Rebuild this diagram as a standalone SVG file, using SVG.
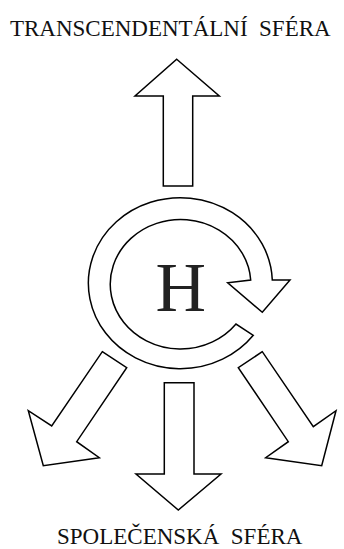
<svg xmlns="http://www.w3.org/2000/svg" width="344" height="549" viewBox="0 0 344 549">
<style>
.shape{fill:#fff;stroke:#000;stroke-width:1.5;stroke-linejoin:miter}
.lbl{font-family:"Liberation Serif","Times New Roman",serif;font-size:23px;fill:#111}
.h{font-family:"Liberation Serif","Times New Roman",serif;font-size:70px;fill:#222}
</style>
<rect width="344" height="549" fill="#fff"/>
<g id="label-top"><text class="lbl" x="170.3" y="36" text-anchor="middle" xml:space="preserve">TRANSCENDENTÁLNÍ  SFÉRA</text></g>
<g id="label-bottom"><text class="lbl" x="179.7" y="544" text-anchor="middle" xml:space="preserve">SPOLEČENSKÁ  SFÉRA</text></g>
<g id="connectors">
<path class="shape" d="M176.7,59.3 L219.3,96 L192.7,96 L192.7,186 L163.3,186 L163.3,96 L135,96 Z"/>
<path class="shape" d="M164.3,382.7 L194,382.7 L194,474 L221,474 L178.3,510 L136,474 L164.3,474 Z"/>
<path class="shape" d="M102.3,351.7 L126.7,367.7 L76.7,441.7 L99.3,457.7 L43.3,465.7 L28.3,410.7 L51.7,426 Z"/>
<path class="shape" d="M262.3,351.7 L238.3,367.7 L288.3,441.7 L265.7,457.7 L321.7,465.7 L336,410.7 L313.3,426.7 Z"/>
</g>
<g id="node-h">
<path class="shape" d="M253.3,335.3 A92,85.5 0 1 1 272.3,280 L290,280 L262.3,312.3 L227.7,282.7 L250.7,280 A70.3,64.7 0 1 0 236,324 Z"/>
<text class="h" x="180.8" y="310.7" text-anchor="middle">H</text>
</g>
</svg>
